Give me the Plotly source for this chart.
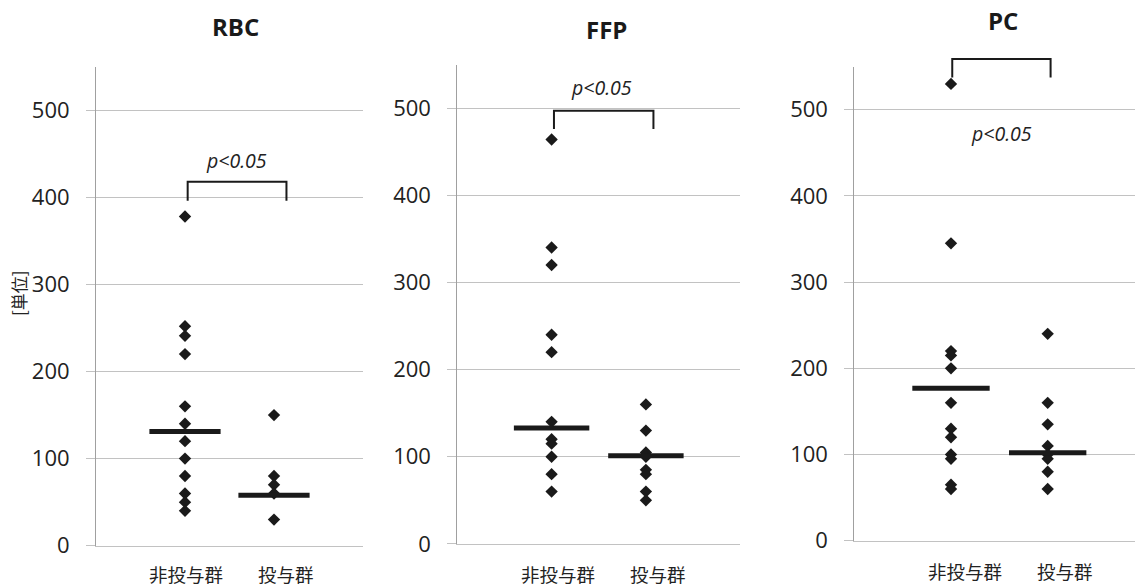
import plotly.graph_objects as go

W, H = 1135, 588

# ---------------- data ----------------
panel_titles = ["RBC", "FFP", "PC"]
categories = ["非投与群", "投与群"]

rbc_non = [378, 252, 241, 220, 160, 140, 120, 100, 80, 60, 50, 40]
rbc_tx = [150, 80, 70, 60, 30]
ffp_non = [464, 340, 320, 240, 220, 140, 120, 115, 100, 80, 60]
ffp_tx = [160, 130, 105, 100, 85, 80, 60, 50]
pc_non = [530, 345, 220, 215, 200, 160, 130, 120, 100, 95, 65, 60]
pc_tx = [240, 160, 135, 110, 100, 95, 80, 60]

rbc_median = [131, 58]
ffp_median = [133, 101]
pc_median = [177, 102]

sig_label = "p<0.05"
y_title = "[単位]"
y_ticks = [0, 100, 200, 300, 400, 500]
Y_MAX = 550

# ---------------- layout geometry (pixels) ----------------
panels = [
    dict(values=[rbc_non, rbc_tx], med=rbc_median, x0=96, x1=363, yb=545.7, yt=66.7, xr=3.0,
         title_xy=(235, 26), br=(1.03, 2.14, 418, 396), p_xy=(1.58, 442),
         cat_x=[1.01, 2.14], cat_y=574),
    dict(values=[ffp_non, ffp_tx], med=ffp_median, x0=457.3, x1=740.2, yb=543.9, yt=64.5, xr=3.0,
         title_xy=(606, 30), br=(1.025, 2.08, 497, 476), p_xy=(1.53, 524),
         cat_x=[1.065, 2.13], cat_y=574),
    dict(values=[pc_non, pc_tx], med=pc_median, x0=854.3, x1=1135, yb=540.7, yt=66.7, xr=2.903,
         title_xy=(1003, 21), br=(1.013, 2.03, 559, 537.6), p_xy=(1.524, 472),
         cat_x=[1.145, 2.18], cat_y=571),
]

INK = "#1a1a1a"
TXT = "#222222"
GRID = "#c2c2c2"
AXIS = "#a0a0a0"
FONT = "Open Sans, Noto Sans CJK JP, sans-serif"
CJK = "Noto Sans CJK JP, sans-serif"

fig = go.Figure()
annotations = []
shapes = []

for i, p in enumerate(panels):
    n = i + 1
    xa = "x" if n == 1 else f"x{n}"
    ya = "y" if n == 1 else f"y{n}"
    for gi, vals in enumerate(p["values"]):
        fig.add_trace(go.Scatter(
            x=[gi + 1] * len(vals), y=vals, mode="markers",
            marker=dict(symbol="diamond", size=9.5, color=INK, line=dict(width=0)),
            xaxis=xa, yaxis=ya, showlegend=False, cliponaxis=False, hoverinfo="y"))
        fig.add_trace(go.Scatter(
            x=[gi + 1 - 0.4, gi + 1 + 0.4], y=[p["med"][gi]] * 2, mode="lines",
            line=dict(color=INK, width=5), xaxis=xa, yaxis=ya,
            showlegend=False, cliponaxis=False, hoverinfo="skip"))
    # significance bracket (y in axis-domain units so it may rise above the plot top)
    bl, brr, top, bot = p["br"]
    path = (f"M {bl},{bot / Y_MAX} L {bl},{top / Y_MAX} "
            f"L {brr},{top / Y_MAX} L {brr},{bot / Y_MAX}")
    shapes.append(dict(type="path", path=path, xref=xa, yref=f"{ya} domain",
                       line=dict(color=INK, width=2), layer="above"))
    annotations.append(dict(
        x=p["p_xy"][0], y=p["p_xy"][1], xref=xa, yref=ya, text=f"<i>{sig_label}</i>",
        showarrow=False, font=dict(family=FONT, size=19.5, color=TXT),
        xanchor="center", yanchor="middle"))
    annotations.append(dict(
        x=p["title_xy"][0] / W, y=1 - p["title_xy"][1] / H, xref="paper", yref="paper",
        text=f"<b>{panel_titles[i]}</b>", showarrow=False,
        font=dict(family=FONT, size=24, color="#1a1a1a"),
        xanchor="center", yanchor="middle"))
    for ci, cat in enumerate(categories):
        annotations.append(dict(
            x=p["cat_x"][ci], y=1 - p["cat_y"] / H, xref=xa, yref="paper",
            text=cat, showarrow=False, font=dict(family=CJK, size=18.5, color=TXT),
            xanchor="center", yanchor="middle"))

    dom_x = [p["x0"] / W, min(p["x1"] / W, 1.0)]
    dom_y = [1 - p["yb"] / H, 1 - p["yt"] / H]
    xkey = "xaxis" if n == 1 else f"xaxis{n}"
    ykey = "yaxis" if n == 1 else f"yaxis{n}"
    fig.update_layout({
        xkey: dict(domain=dom_x, range=[0, p["xr"]], anchor=ya, showgrid=False,
                   zeroline=False, showticklabels=False, ticks="", automargin=False,
                   showline=True, linecolor=GRID, linewidth=1, fixedrange=True),
        ykey: dict(domain=dom_y, range=[0, Y_MAX], anchor=xa, tickvals=y_ticks,
                   showgrid=True, gridcolor=GRID, gridwidth=1, zeroline=False,
                   showline=True, linecolor=AXIS, linewidth=1, automargin=False,
                   ticks="outside", ticklen=9, tickcolor=GRID, tickwidth=1,
                   ticklabelstandoff=12,
                   tickfont=dict(family=FONT, size=22, color=TXT), fixedrange=True),
    })

annotations.append(dict(
    x=19 / W, y=1 - 293 / H, xref="paper", yref="paper", text=y_title,
    textangle=-90, showarrow=False, font=dict(family=CJK, size=17, color=TXT),
    xanchor="center", yanchor="middle"))

fig.update_layout(
    width=W, height=H, autosize=False,
    margin=dict(l=0, r=0, t=0, b=0, pad=0, autoexpand=False),
    paper_bgcolor="white", plot_bgcolor="white",
    annotations=annotations, shapes=shapes, showlegend=False,
)

# remove the default page margin so the figure sits at the window's top-left corner
post = (
    "var de=document.documentElement, b=document.body;"
    "de.style.margin='0';b.style.margin='0';de.style.overflow='hidden';b.style.overflow='hidden';"
    "var gd=document.getElementById('{plot_id}');"
    "gd.style.position='fixed';gd.style.left='0px';gd.style.top='0px';"
)

fig.write_html("out.html", include_plotlyjs=True,
               config={"displayModeBar": False, "responsive": False},
               post_script=post)
